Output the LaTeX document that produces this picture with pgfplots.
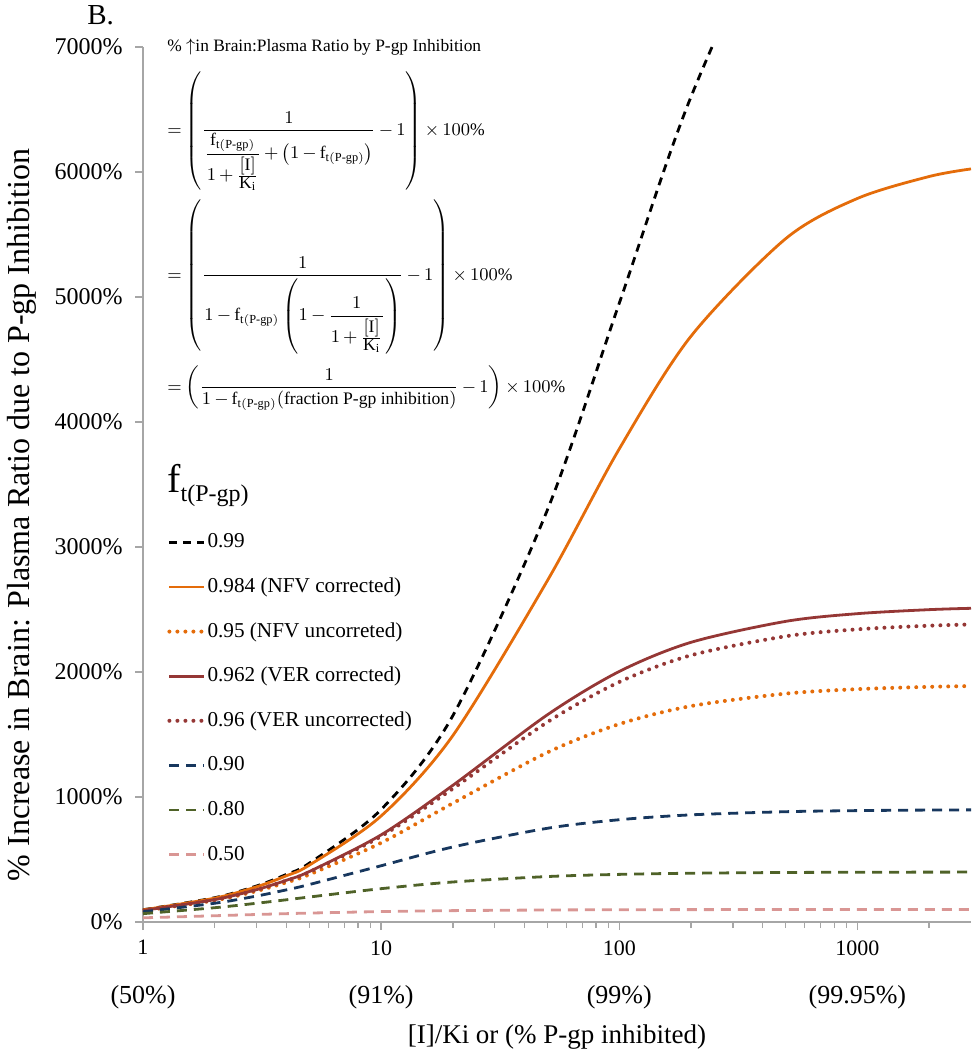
\documentclass[border=0pt]{standalone}
\usepackage{amsmath}
\usepackage{fontspec}
\setmainfont{Liberation Serif}
\usepackage{pgfplots}
\pgfplotsset{compat=1.18}

\definecolor{cOr}{HTML}{E46C0A}
\definecolor{cRd}{HTML}{953735}
\definecolor{cNv}{HTML}{17375E}
\definecolor{cOl}{HTML}{4F6228}
\definecolor{cPk}{HTML}{D99694}
\definecolor{cAx}{HTML}{A6A6A6}

\newcommand{\ft}{\mathrm{f}_{\mathrm{t(P\text{-}gp)}}}
\newcommand{\IK}{\frac{\textstyle[\mathrm{I}]}{\textstyle\mathrm{K_i}}}
\newcommand{\fsz}{\fontsize{8.8}{11}\selectfont\medmuskip=3mu\thickmuskip=4mu}

\pgfplotstableread{
x     f99     f984    f95     f962    f96     f90     f80     f50
1     98.02   96.85   90.48   92.68   92.31   81.82   66.67   33.33
2     194.12  190.70  172.73  178.81  177.78  150.00  114.29  50.00
3     288.35  281.68  247.83  259.07  257.14  207.69  150.00  60.00
4     380.77  369.92  316.67  334.03  331.03  257.14  177.78  66.67
5     471.43  455.56  380.00  404.20  400.00  300.00  200.00  71.43
10    900.00  848.28  633.33  697.10  685.71  450.00  266.67  83.33
20    1650.00 1490.91 950.00  1093.18 1066.67 600.00  320.00  90.91
50    3300.00 2733.33 1357.14 1658.62 1600.00 750.00  363.64  96.15
100   4950.00 3784.62 1583.33 2004.17 1920.00 818.18  380.95  98.04
200   6600.00 4685.71 1727.27 2237.21 2133.33 857.14  390.24  99.01
500   8250.00 5466.67 1826.92 2405.00 2285.71 882.35  396.04  99.60
1000  9000.00 5788.24 1862.75 2466.67 2341.46 891.09  398.01  99.80
2000  9500.00 5963.64 1881.19 2498.70 2370.37 895.52  399.00  99.90
3000  9700.00 6024.49 1887.42 2509.57 2380.17 897.01  399.33  99.93
}\datatab

\begin{document}
\begin{tikzpicture}
\useasboundingbox (-71.5pt,-64pt) rectangle (414.5pt,461pt);
\begin{axis}[
  name=ax, at={(0,0)}, anchor=south west,
  scale only axis, width=414pt, height=437.5pt,
  xmode=log, xmin=1, xmax=3000, ymin=0, ymax=7000,
  axis x line*=bottom, axis y line*=left,
  axis line style={draw=cAx, line width=0.7pt, -},
  every tick/.style={draw=cAx, line width=0.7pt},
  tick align=outside,
  major tick length=4pt, minor tick length=3pt,
  xtick={1,10,100,1000}, xticklabels={1,10,100,1000},
  minor xtick={2,3,4,5,6,7,8,9,20,30,40,50,60,70,80,90,200,300,400,500,600,700,800,900,2000},
  ytick={0,1000,2000,3000,4000,5000,6000,7000},
  yticklabels={0\%,1000\%,2000\%,3000\%,4000\%,5000\%,6000\%,7000\%},
  /pgf/number format/assume math mode=true,
  xticklabel style={font=\fontsize{11}{13}\selectfont, anchor=north, inner sep=0pt, yshift=-5pt},
  yticklabel style={font=\fontsize{12}{14}\selectfont, anchor=east, inner sep=0pt, xshift=-6pt},
  legend cell align=left,
  legend style={draw=none, fill=none, at={(0.029,0.4486)}, anchor=north west,
    font=\fontsize{10.6}{12}\selectfont, row sep=9.8pt, inner sep=0pt,
    nodes={text height=8pt, text depth=2.5pt, inner sep=1pt}},
  legend image code/.code={\draw[#1] (0cm,0cm) -- (0.6cm,0cm);},
  every axis plot/.append style={line width=1.4pt},
]
\addplot[black, smooth, dash pattern=on 4pt off 3pt] table[x=x,y=f99] {\datatab};
\addlegendentry{0.99}
\addplot[cOr, smooth] table[x=x,y=f984] {\datatab};
\addlegendentry{0.984 (NFV corrected)}
\addplot[cOr, smooth, line width=2pt, line cap=round, dash pattern=on 0pt off 4pt] table[x=x,y=f95] {\datatab};
\addlegendentry{0.95 (NFV uncorreted)}
\addplot[cRd, smooth] table[x=x,y=f962] {\datatab};
\addlegendentry{0.962 (VER corrected)}
\addplot[cRd, smooth, line width=2pt, line cap=round, dash pattern=on 0pt off 4pt] table[x=x,y=f96] {\datatab};
\addlegendentry{0.96 (VER uncorrected)}
\addplot[cNv, smooth, dash pattern=on 5pt off 3.5pt] table[x=x,y=f90] {\datatab};
\addlegendentry{0.90}
\addplot[cOl, smooth, dash pattern=on 5pt off 3.5pt] table[x=x,y=f80] {\datatab};
\addlegendentry{0.80}
\addplot[cPk, smooth, dash pattern=on 5pt off 3.5pt] table[x=x,y=f50] {\datatab};
\addlegendentry{0.50}
\end{axis}

% panel letter
\node[anchor=west, font=\fontsize{14.5}{16}\selectfont, inner sep=0pt] at (-28pt,453.5pt) {B.};
% title and formulas
\node[anchor=base west, font=\fontsize{8.7}{10}\selectfont, inner sep=0pt] at (12pt,435pt)
  {\% $\uparrow$in Brain:Plasma Ratio by P-gp Inhibition};
\node[anchor=west, inner sep=0pt, font=\fsz] at (12pt,395.5pt)
  {$\displaystyle =\left(\frac{1}{\dfrac{\ft}{1+\IK}+\left(1-\ft\right)}-1\right)\times 100\%$};
\node[anchor=west, inner sep=0pt, font=\fsz] at (12pt,322.5pt)
  {$\displaystyle =\left(\frac{1}{1-\ft\left(1-\dfrac{1}{1+\IK}\right)}-1\right)\times 100\%$};
\node[anchor=west, inner sep=0pt, font=\fsz] at (12pt,267pt)
  {$\displaystyle =\left(\frac{1}{1-\ft(\text{fraction P-gp inhibition})}-1\right)\times 100\%$};
% legend title
\node[anchor=base west, inner sep=0pt] at (12pt,214.5pt)
  {{\fontsize{20}{22}\selectfont f}\raisebox{-4.5pt}{\fontsize{12}{14}\selectfont t(P-gp)}};
% second row of x labels
\node[font=\fontsize{13}{15}\selectfont] at (0pt,-37.5pt) {(50\%)};
\node[font=\fontsize{13}{15}\selectfont] at (119.06pt,-37.5pt) {(91\%)};
\node[font=\fontsize{13}{15}\selectfont] at (238.13pt,-37.5pt) {(99\%)};
\node[font=\fontsize{13}{15}\selectfont] at (357.19pt,-37.5pt) {(99.95\%)};
% axis labels
\node[font=\fontsize{13.5}{15}\selectfont] at (207pt,-57.5pt) {[I]/Ki or (\% P-gp inhibited)};
\node[font=\fontsize{16}{18}\selectfont, rotate=90] at (-60.5pt,203.5pt)
  {\% Increase in Brain: Plasma Ratio due to P-gp Inhibition};
\end{tikzpicture}
\end{document}
